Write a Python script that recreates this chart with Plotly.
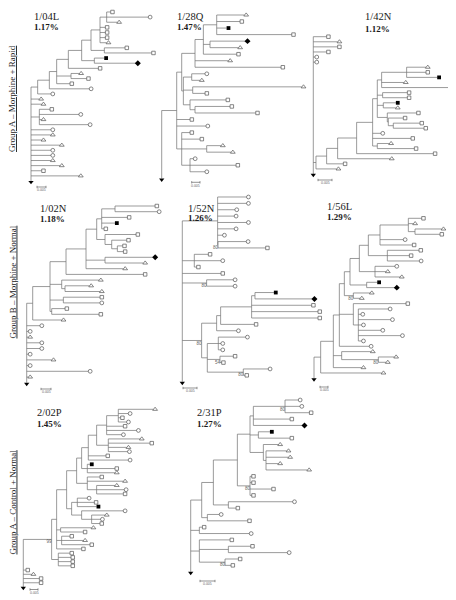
import plotly.graph_objects as go

W, H = 456, 600          # reference picture size
OFF = 8                  # the page body margin that the browser adds
FW, FH = W - OFF, H - OFF  # figure size so that figure + margin fills the window

# ---------------- data ----------------
TREE_NAMES = ["1/04L", "1/28Q", "1/42N", "1/02N", "1/52N", "1/56L", "2/02P", "2/31P"]
DIVERSITY = ["1.17%", "1.47%", "1.12%", "1.18%", "1.26%", "1.29%", "1.45%", "1.27%"]
GROUP_LABELS = ["Group A – Morphine + Rapid",
                "Group B – Morphine + Normal",
                "Group A – Control + Normal"]
SCALE_LABEL = "0.005"

# Newick trees; tip names code the tip symbol:
# o = open circle, s = open square, t = open triangle,
# S = filled square, D = filled diamond, R = root (filled down triangle)
# internal numeric labels = bootstrap values
NEWICK_104L = ("(((((((((s:12,o:125,t:32):20,s:16,s:16,s:16,t:20):27,(s:62,s:142):40):28,"
               "(S:30,D:125):38):40,s:90):35,(t:25,s:47):43,s:40):22,o:120):35,o:40):20,"
               "t:25,t:32,(s:32,o:119,t:7,o:147):25,o:60,t:60,t:32,t:87,o:60,o:60,t:60,"
               "t:87,s:32,t:144,R:0)")
NEWICK_128Q = ("((((((t:83,s:70,S:30,s:225):40,(D:107,t:85):20,s:100):25,t:100,s:258):40,"
               "((o:40,t:25):25,(t:327,s:37):28,(s:108,(s:105,s:182):15):20):5):15,"
               "s:40,o:88,(s:25,s:55,(t:43,t:73):75,(o:10,s:138,o:45):25):15):45,R:0)")
NEWICK_142N = ("(s:40,t:73,s:73,s:40,o:5,o:5,((((((((t:58,s:58,S:92):75,t:67,s:210):13,"
               "(s:74,s:74):16,(S:38,t:38):18,(s:88,(s:45,(s:80,s:92):15):3):30):14,"
               "o:25,s:115,(t:36,s:111):14):48,s:230):57,t:157):33,s:50):32,t:62):8,R:0)")
NEWICK_102N = ("((((((((s:120,o:127):40,s:77,S:40,s:7):15,(s:93,(s:45,(s:16,s:18):17):20):25):32,"
               "(D:145,t:115):57,t:112):60,s:232):48,(t:112,(t:73,t:105):10):35,"
               "(s:110,o:110):40,(s:40,s:142):5):52,t:87):18,o:40,o:5,t:5,o:40,o:40,o:5,"
               "t:75,o:5,o:185,t:5,R:0)")
NEWICK_152N = ("((o:87,o:87,o:52,o:50,o:87,o:50,o:15,(o:85,s:143)80:1):106,(s:42,o:80,s:7):36,"
               "s:116,(o:80,o:80)80:73,(((((S:57,D:173):10,s:180,s:199,s:199):93,s:101):12,"
               "o:60):45,((o:82,o:8,o:8):33,(s:40,s:5)54:38,(o:75,s:5)80:108):17)80:58,R:0)")
NEWICK_156L = ("((((((((((s:40,t:15,(t:80,s:75):20):85,o:70,s:97):35,(s:95,s:66,o:96):57):27,"
               "(o:60,t:33,t:75):47):28,(S:32,D:85):50):17,(t:50,t:20)80:27):15,"
               "(s:158,(o:90,o:8,o:97,o:10,o:68,o:127,o:10):15):42,o:90):18,"
               "(t:88,(t:48,t:23)80:110):25,t:85):38,t:183):20,R:0)")
NEWICK_202P = ("((((((((((t:105,o:30,s:7,o:25):35,s:50,o:90,o:45):30,(t:95,s:125,t:55,o:58):35):25,"
               "s:53,o:120):20,(S:8,s:83,t:83):17):15,(s:38,t:108,(t:55,o:83,s:80):28):32):30,"
               "((o:30,s:51,S:58):17,(o:125,(t:40,o:27,s:25):30):30):15):30,(t:93,s:68):12,"
               "(s:25,t:65,s:85):15,s:75):15,(s:35,s:38,s:38,s:38):20)99:85,"
               "s:8,t:25,s:48,s:48,R:0)")
NEWICK_231P = ("(((((((o:40,o:45,s:73)80:95,s:110,D:148):10,(S:35,s:95):25,"
               "(t:45,(t:62,t:67,t:37,t:124):8):40):38,(s:5,s:5,s:65,s:5)80:38):72,"
               "(o:193,s:23):45):35,(o:36,s:121):17):33,(s:9,o:150):26,"
               "(s:92,(s:67,o:177):87,(s:40,s:18)80:77):26,R:0)")

TREES = [NEWICK_104L, NEWICK_128Q, NEWICK_142N, NEWICK_102N,
         NEWICK_152N, NEWICK_156L, NEWICK_202P, NEWICK_231P]

# ---------------- placement (reference page pixels) ----------------
# root x, first-tip y, last-tip y
PLACE = [(31, 12, 181), (161.7, 15, 178.3), (313.3, 36.7, 174),
         (26.7, 206, 382.7), (182.3, 197, 381.7), (314, 218.3, 378.3),
         (23.3, 409.3, 587), (190.7, 400, 571.7)]
UNIT_PX = 1 / 3.0  # one branch-length unit in pixels
TITLE_POS = [(31.7, 16.5, 27.5), (175, 16.5, 27.5), (363, 16.5, 28.5),
             (38, 208.5, 218.5), (185.5, 208.5, 218), (325, 206.5, 216.5),
             (35, 412, 423.5), (195, 412.5, 423.5)]
SCALE_POS = [(37, 46, 187), (191.7, 200, 182.3), (318, 332, 180),
             (41, 51, 389), (183, 197, 388), (320, 328, 387),
             (30, 38, 589.5), (200, 215, 581)]
GROUP_X = 12.5
GROUP_POS = [98.5, 282, 502]

LINE_COLOR = "#707070"
MARK_COLOR = "#555555"
MARKERS = {
    "o": dict(symbol="circle-open", size=3.8, color=MARK_COLOR, line=dict(width=0.7, color=MARK_COLOR)),
    "s": dict(symbol="square-open", size=3.5, color=MARK_COLOR, line=dict(width=0.7, color=MARK_COLOR)),
    "t": dict(symbol="triangle-up-open", size=4.2, color=MARK_COLOR, line=dict(width=0.7, color=MARK_COLOR)),
    "S": dict(symbol="square", size=3.8, color="#000000", line=dict(width=0)),
    "D": dict(symbol="diamond", size=4.6, color="#000000", line=dict(width=0)),
    "R": dict(symbol="triangle-down", size=4.6, color="#000000", line=dict(width=0)),
}


def fx(px):
    return (px - OFF) / FW


def fy(py):
    return 1 - (py - OFF) / FH


def parse_newick(s):
    s = s.strip().rstrip(";")
    pos = 0

    def node():
        nonlocal pos
        n = {"children": [], "name": "", "len": 0.0}
        if s[pos] == "(":
            pos += 1
            while True:
                n["children"].append(node())
                if s[pos] == ",":
                    pos += 1
                    continue
                if s[pos] == ")":
                    pos += 1
                    break
        start = pos
        while pos < len(s) and s[pos] not in ":,)":
            pos += 1
        n["name"] = s[start:pos]
        if pos < len(s) and s[pos] == ":":
            pos += 1
            start = pos
            while pos < len(s) and s[pos] not in ",)":
                pos += 1
            n["len"] = float(s[start:pos])
        return n

    return node()


def layout_tree(root):
    leaves, internals = [], []

    def rec(n, x):
        n["x"] = x + n["len"]
        if n["children"]:
            for c in n["children"]:
                rec(c, n["x"])
            n["y"] = (n["children"][0]["y"] + n["children"][-1]["y"]) / 2.0
            internals.append(n)
        else:
            n["y"] = float(len(leaves))
            leaves.append(n)

    rec(root, 0.0)
    return leaves, internals


fig = go.Figure()
layout_axes = {}
annotations = []
shapes = []

for k, nwk in enumerate(TREES):
    root = parse_newick(nwk)
    leaves, internals = layout_tree(root)
    n = len(leaves)
    rx, ytop, ybot = PLACE[k]
    sp = (ybot - ytop) / (n - 1)
    maxx = max(l["x"] for l in leaves)
    ax = "" if k == 0 else str(k + 1)

    xs, ys = [], []
    for nd in internals:
        ch = nd["children"]
        xs += [nd["x"], nd["x"], None]
        ys += [ch[0]["y"], ch[-1]["y"], None]
        for c in ch:
            if c["x"] > nd["x"]:
                xs += [nd["x"], c["x"], None]
                ys += [c["y"], c["y"], None]
    fig.add_trace(go.Scatter(x=xs, y=ys, mode="lines",
                             line=dict(color=LINE_COLOR, width=0.7),
                             hoverinfo="skip", xaxis="x" + ax, yaxis="y" + ax))

    off = 1.8 / UNIT_PX
    for code, mk in MARKERS.items():
        pts = [l for l in leaves if l["name"] == code]
        if not pts:
            continue
        fig.add_trace(go.Scatter(
            x=[p["x"] + (0 if code == "R" else off) for p in pts],
            y=[p["y"] + (0.2 if code == "R" else 0) for p in pts],
            mode="markers", marker=mk, cliponaxis=False,
            hoverinfo="skip", xaxis="x" + ax, yaxis="y" + ax))

    boot = [nd for nd in internals if nd["name"]]
    if boot:
        fig.add_trace(go.Scatter(
            x=[nd["x"] for nd in boot], y=[nd["y"] + 0.15 for nd in boot],
            text=[nd["name"] for nd in boot], mode="text",
            textposition="bottom left", cliponaxis=False,
            textfont=dict(size=4.5, color="#666666", family="Liberation Sans"),
            hoverinfo="skip", xaxis="x" + ax, yaxis="y" + ax))

    padl = 3.0
    x0px = rx - padl
    x1px = min(rx + maxx * UNIT_PX + 5, W)
    layout_axes["xaxis" + ax] = dict(
        domain=[fx(x0px), fx(x1px)],
        range=[(x0px - rx) / UNIT_PX, (x1px - rx) / UNIT_PX],
        visible=False, fixedrange=True)
    pad = min(0.6, (ytop - OFF) / sp)
    padb = 0.6
    layout_axes["yaxis" + ax] = dict(
        domain=[max(0.0, fy(ybot + padb * sp)), min(1.0, fy(ytop - pad * sp))],
        range=[n - 1 + padb, -pad],
        visible=False, fixedrange=True)

    tx, ty1, ty2 = TITLE_POS[k]
    annotations.append(dict(x=fx(tx), y=fy(ty1), xref="paper", yref="paper",
                            text=TREE_NAMES[k], showarrow=False,
                            xanchor="left", yanchor="middle",
                            font=dict(family="Liberation Serif", size=10.5, color="#1a1a1a")))
    annotations.append(dict(x=fx(tx), y=fy(ty2), xref="paper", yref="paper",
                            text="<b>" + DIVERSITY[k] + "</b>", showarrow=False,
                            xanchor="left", yanchor="middle",
                            font=dict(family="Liberation Serif", size=9, color="#1a1a1a")))

    sx0, sx1, sy = SCALE_POS[k]
    for (a, b, c, d) in [(sx0, sy, sx1, sy), (sx0, sy - 1.2, sx0, sy + 1.2), (sx1, sy - 1.2, sx1, sy + 1.2)]:
        shapes.append(dict(type="line", xref="paper", yref="paper",
                           x0=fx(a), y0=fy(b), x1=fx(c), y1=fy(d),
                           line=dict(color="#666666", width=0.7)))
    annotations.append(dict(x=fx((sx0 + sx1) / 2), y=fy(sy + 3.2),
                            xref="paper", yref="paper", text=SCALE_LABEL,
                            showarrow=False, xanchor="center", yanchor="middle",
                            font=dict(family="Liberation Sans", size=3.5, color="#666666")))

for g, gy in zip(GROUP_LABELS, GROUP_POS):
    annotations.append(dict(x=fx(GROUP_X), y=fy(gy), xref="paper", yref="paper",
                            text="<u>" + g + "</u>", showarrow=False, textangle=-90,
                            xanchor="center", yanchor="middle",
                            font=dict(family="Liberation Serif", size=9, color="#1a1a1a")))

fig.update_layout(width=FW, height=FH, margin=dict(l=0, r=0, t=0, b=0),
                  paper_bgcolor="white", plot_bgcolor="rgba(0,0,0,0)",
                  showlegend=False, annotations=annotations, shapes=shapes,
                  **layout_axes)

fig.write_html("out.html")
